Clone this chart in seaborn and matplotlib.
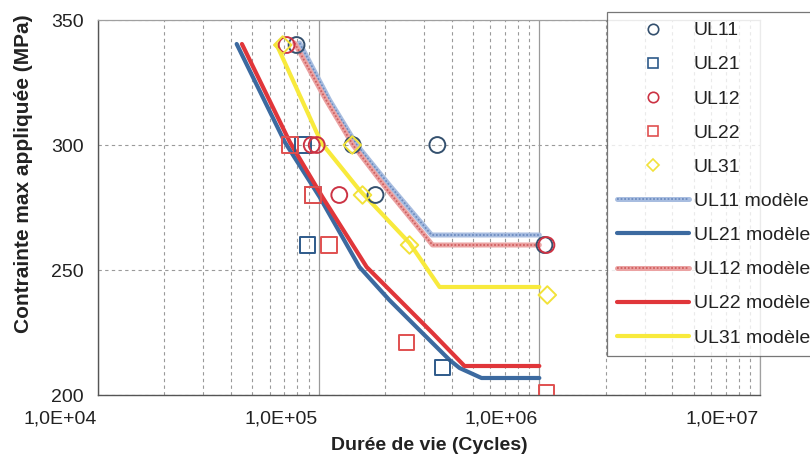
import numpy as np
import pandas as pd
import matplotlib
matplotlib.use("Agg")
import matplotlib.pyplot as plt
from matplotlib.lines import Line2D
from matplotlib.legend_handler import HandlerTuple
from matplotlib.transforms import ScaledTranslation
import matplotlib.ticker as mticker
import seaborn as sns

# ---------------- data ----------------
ul11_N = [79400, 142600, 181000, 345000, 1055000]
ul11_S = [340, 300, 280, 300, 260]
ul21_N = [84700, 94000, 89000, 364000]
ul21_S = [300, 280, 260, 211]
ul12_N = [71600, 93000, 98000, 124000, 1077000]
ul12_S = [340, 300, 300, 280, 260]
ul22_N = [74000, 94000, 111000, 250000, 1077000]
ul22_S = [300, 280, 260, 221, 201]
ul31_N = [68700, 142000, 158000, 258000, 1087000]
ul31_S = [340, 300, 280, 260, 240]

m11_N = [82000, 112000, 149000, 209000, 325000, 1000000]
m11_S = [340.8, 318, 300, 284, 264, 264]
m21_N = [42500, 70200, 101000, 153000, 209000, 286000, 392000, 435000, 547000, 1000000]
m21_S = [340.4, 301.2, 279.2, 251.2, 238, 226, 214, 210.8, 206.8, 206.8]
m12_N = [77800, 108000, 143000, 205000, 328000, 1000000]
m12_S = [340.8, 318, 300, 282, 260, 260]
m22_N = [44900, 74000, 104000, 165000, 240000, 328000, 458000, 1000000]
m22_S = [340.4, 301.2, 279.2, 251.2, 236.8, 224.8, 211.6, 211.6]
m31_N = [64600, 103000, 153000, 258000, 353000, 1000000]
m31_S = [340, 300.8, 282, 260.8, 243.2, 243.2]

xticks = [1e4, 1e5, 1e6, 1e7]
xtick_labels = ["1,0E+04", "1,0E+05", "1,0E+06", "1,0E+07"]
yticks = [200, 250, 300, 350]

# ---------------- style ----------------
sns.set_style("white")
plt.rcParams["font.family"] = ["Liberation Sans", "DejaVu Sans"]

fig = plt.figure(figsize=(8.1, 4.59), dpi=100)
ax = fig.add_axes([98 / 810, 1 - 395 / 459, (760 - 98) / 810, (395 - 20) / 459])

c11 = "#34506e"
c21 = "#2e5a8a"
c12 = "#cc3344"
c22 = "#e05050"
c31 = "#f2e23a"

# scatter points
def pts(N, S, marker, color, s):
    df = pd.DataFrame({"N": N, "S": S})
    sns.scatterplot(data=df, x="N", y="S", ax=ax, marker=marker, s=s,
                    facecolor="none", edgecolor=color, linewidth=1.4,
                    zorder=5, legend=False)

# model lines
def mline(N, S, color, lw, z=4):
    df = pd.DataFrame({"N": N, "S": S})
    sns.lineplot(data=df, x="N", y="S", ax=ax, color=color, lw=lw,
                 sort=False, estimator=None, zorder=z, legend=False)

mline(m21_N, m21_S, "#3c6aa0", 3.0)
mline(m22_N, m22_S, "#e0363a", 3.0)
mline(m31_N, m31_S, "#f8ea3c", 3.0)
# hatched-looking model lines
mline(m11_N, m11_S, "#a8bde0", 3.6)
ax.plot(m11_N, m11_S, color="#6d8cc0", lw=1.3, ls=(0, (1, 1)), zorder=4)
mline(m12_N, m12_S, "#eba3a3", 3.6)
ax.plot(m12_N, m12_S, color="#d06060", lw=1.3, ls=(0, (1, 1)), zorder=4)

pts(ul11_N, ul11_S, "o", c11, 130)
pts(ul21_N, ul21_S, "s", c21, 130)
pts(ul12_N, ul12_S, "o", c12, 130)
pts(ul22_N, ul22_S, "s", c22, 130)
pts(ul31_N, ul31_S, "D", c31, 80)

# axes
ax.set_xscale("log")
ax.set_xlim(1e4, 1e7)
ax.set_ylim(200, 350)
ax.set_xticks(xticks)
ax.set_xticklabels(xtick_labels)
ax.xaxis.set_minor_locator(mticker.LogLocator(base=10, subs=np.arange(2, 10)))
ax.xaxis.set_minor_formatter(mticker.NullFormatter())
ax.set_yticks(yticks)

ax.grid(True, which="major", axis="x", color="#9a9a9a", lw=0.9, ls="-")
ax.grid(True, which="minor", axis="x", color="#9a9a9a", lw=0.8, ls=(0, (3, 3)))
ax.grid(True, which="major", axis="y", color="#9a9a9a", lw=0.8, ls=(0, (3, 3)))
ax.set_axisbelow(True)

for side in ["left", "bottom"]:
    ax.spines[side].set_color("#555555")
    ax.spines[side].set_linewidth(1.0)
for side in ["top", "right"]:
    ax.spines[side].set_color("#a0a0a0")
    ax.spines[side].set_linewidth(0.9)

ax.tick_params(axis="both", which="major", labelsize=14, colors="#222222",
               direction="out", length=5, width=0.8)
ax.tick_params(axis="x", which="minor", direction="out", length=4, width=0.7, colors="#555555")
ax.tick_params(axis="x", which="major", pad=6)
ax.tick_params(axis="y", which="major", pad=5)
for lab in ax.get_xticklabels():
    lab.set_transform(lab.get_transform() + ScaledTranslation(-0.38, 0, fig.dpi_scale_trans))

ax.set_xlabel("Durée de vie (Cycles)", fontsize=14, fontweight="bold", color="#222222", labelpad=7)
ax.set_ylabel("Contrainte max appliquée (MPa)", fontsize=15, fontweight="bold", color="#222222")
ax.yaxis.set_label_coords(-0.098, 0.59)

# legend
ms = 7.5
h = [
    Line2D([], [], ls="", marker="o", ms=ms, mfc="none", mec=c11, mew=1.2),
    Line2D([], [], ls="", marker="s", ms=ms, mfc="none", mec=c21, mew=1.2),
    Line2D([], [], ls="", marker="o", ms=ms, mfc="none", mec=c12, mew=1.2),
    Line2D([], [], ls="", marker="s", ms=ms, mfc="none", mec=c22, mew=1.2),
    Line2D([], [], ls="", marker="D", ms=ms - 1, mfc="none", mec=c31, mew=1.2),
    (Line2D([], [], color="#a8bde0", lw=3.6), Line2D([], [], color="#6d8cc0", lw=1.3, ls=(0, (1, 1)))),
    Line2D([], [], color="#3c6aa0", lw=3.0),
    (Line2D([], [], color="#eba3a3", lw=3.6), Line2D([], [], color="#d06060", lw=1.3, ls=(0, (1, 1)))),
    Line2D([], [], color="#e0363a", lw=3.0),
    Line2D([], [], color="#f8ea3c", lw=3.0),
]
labels = ["UL11", "UL21", "UL12", "UL22", "UL31",
          "UL11 modèle", "UL21 modèle", "UL12 modèle", "UL22 modèle", "UL31 modèle"]
leg = fig.legend(h, labels, loc="upper left", bbox_to_anchor=(607 / 810, 1 - 12 / 459),
                 bbox_transform=fig.transFigure, borderaxespad=0, fontsize=14,
                 handlelength=3.7, handletextpad=0.25, labelspacing=0.85,
                 borderpad=0.5, frameon=True, fancybox=False,
                 handler_map={tuple: HandlerTuple(ndivide=1)})
leg.get_frame().set_edgecolor("#555555")
leg.get_frame().set_linewidth(0.9)
for t in leg.get_texts():
    t.set_color("#222222")

fig.savefig("out.png", dpi=100, facecolor="white")
